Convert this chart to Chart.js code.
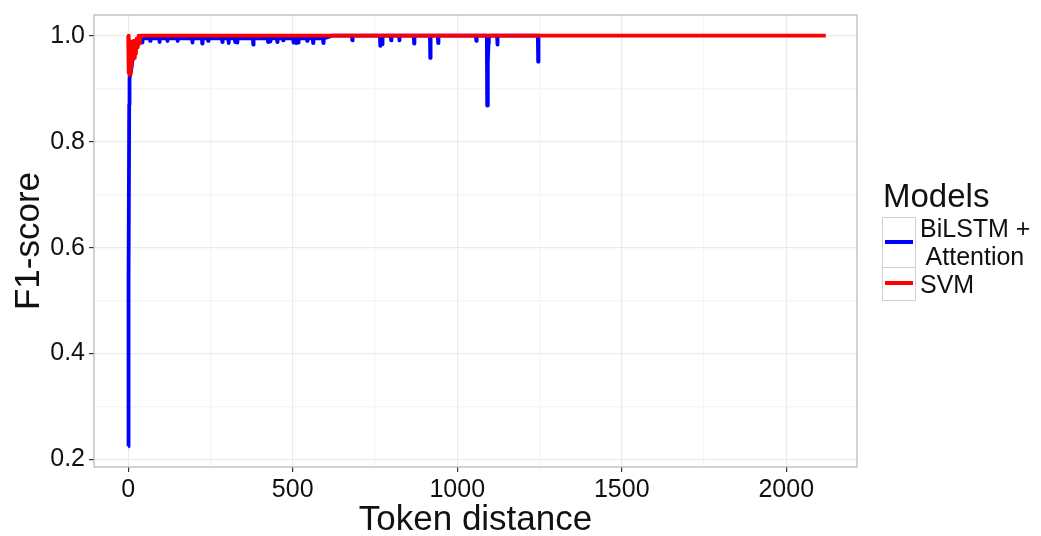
<!DOCTYPE html>
<html>
<head>
<meta charset="utf-8">
<script src="https://cdn.jsdelivr.net/npm/chart.js@4"></script>
<style>
  html, body { margin: 0; padding: 0; background: #ffffff; }
  #wrap { position: relative; width: 1041px; height: 536px; font-family: 'Liberation Sans', Arial, Helvetica, sans-serif; color: #111; }
  #c { position: absolute; left: 0; top: 0; }
  .lg { position: absolute; white-space: pre; line-height: 1; }
  .key { position: absolute; border: 1px solid #cfcfcf; background: #fff; box-sizing: border-box; }
  .keyline { position: absolute; height: 4px; }
</style>
</head>
<body>
<div id="wrap">
  <canvas id="c" width="1041" height="536"></canvas>
  <div class="lg" style="left:883px; top:179px; font-size:33px;">Models</div>
  <div class="key" style="left:882px; top:217px; width:34px; height:51px;"></div>
  <div class="key" style="left:882px; top:267px; width:34px; height:34px;"></div>
  <div class="keyline" style="left:885px; top:240px; width:28px; background:#0000ff;"></div>
  <div class="keyline" style="left:885px; top:281px; width:28px; background:#ff0000;"></div>
  <div class="lg" style="left:920px; top:216px; font-size:25px;">BiLSTM +</div>
  <div class="lg" style="left:920px; top:244px; font-size:25px;"> Attention</div>
  <div class="lg" style="left:920px; top:272px; font-size:25px;">SVM</div>
</div>
<script>
// ---- data ----
const seriesNames = ['BiLSTM + Attention', 'SVM'];

const blueX = [0, 1, 3, 4, 6, 9, 12, 15, 18, 22, 26, 30, 35,
  42, 43, 44, 66, 67, 68, 94, 95, 96, 118, 119, 120, 149, 150, 151,
  194, 195, 196, 224, 225, 226, 242, 243, 244, 285, 286, 287, 304, 305, 306,
  324, 325, 326, 330, 331, 332, 379, 380, 381, 424, 425, 426, 431, 432, 433,
  452, 453, 454, 470, 471, 472, 501, 502, 503, 509, 510, 511, 516, 517, 518,
  543, 544, 545, 561, 562, 563, 592, 593, 594, 620,
  680, 681, 682, 765, 766, 767, 771, 772, 773, 798, 799, 800, 823, 824, 825,
  868, 869, 870, 917, 918, 919, 941, 942, 943, 1057, 1058, 1059,
  1090, 1091, 1093, 1095, 1096, 1121, 1122, 1123, 1245, 1246, 1247, 1250];
const blueY = [0.225, 0.535, 0.87, 0.92, 0.925, 0.935, 0.95, 0.962, 0.97, 0.98, 0.986, 0.99, 0.993,
  0.995, 0.987, 0.995, 0.995, 0.99, 0.995, 0.995, 0.988, 0.995, 0.995, 0.99, 0.995, 0.995, 0.99, 0.995,
  0.995, 0.987, 0.995, 0.995, 0.985, 0.995, 0.995, 0.99, 0.995, 0.995, 0.988, 0.995, 0.995, 0.986, 0.995,
  0.995, 0.988, 0.995, 0.995, 0.987, 0.995, 0.995, 0.983, 0.995, 0.995, 0.988, 0.995, 0.995, 0.989, 0.995,
  0.995, 0.988, 0.995, 0.995, 0.991, 0.995, 0.995, 0.987, 0.995, 0.995, 0.986, 0.995, 0.995, 0.987, 0.995,
  0.995, 0.99, 0.995, 0.995, 0.986, 0.995, 0.995, 0.986, 0.995, 1.0,
  1.0, 0.991, 1.0, 1.0, 0.981, 1.0, 1.0, 0.984, 1.0, 1.0, 0.991, 1.0, 1.0, 0.991, 1.0,
  1.0, 0.985, 1.0, 1.0, 0.958, 1.0, 1.0, 0.986, 1.0, 1.0, 0.99, 1.0,
  1.0, 0.868, 0.95, 0.985, 1.0, 1.0, 0.983, 1.0, 1.0, 0.951, 1.0, 1.0];

const redX = [0, 1, 2, 3, 5, 6, 8, 10, 12, 14, 16, 18, 20, 23, 26, 29, 32, 35, 38, 2120];
const redY = [1.0, 0.93, 1.0, 0.926, 0.99, 0.93, 0.985, 0.94, 0.988, 0.955, 0.99, 0.958, 0.99, 0.965, 0.995, 0.978, 1.0, 0.985, 1.0, 1.0];

const xTicks = [0, 250, 500, 750, 1000, 1250, 1500, 1750, 2000];
const xLabeled = [0, 500, 1000, 1500, 2000];
const yTicks = [0.2, 0.3, 0.4, 0.5, 0.6, 0.7, 0.8, 0.9, 1.0];
const yLabeled = [0.2, 0.4, 0.6, 0.8, 1.0];

const xTitle = 'Token distance';
const yTitle = 'F1-score';

// ---- chart ----
const FONT = "'Liberation Sans', Arial, Helvetica, sans-serif";
const toPts = (xs, ys) => xs.map((x, i) => ({ x: x, y: ys[i] }));
const isLabeled = (list, v) => list.some(t => Math.abs(t - v) < 1e-9);

const borderPlugin = {
  id: 'panelBorder',
  afterDatasetsDraw(chart) {
    const a = chart.chartArea, ctx = chart.ctx;
    ctx.save();
    ctx.strokeStyle = '#b5b5b5';
    ctx.lineWidth = 1.2;
    ctx.strokeRect(a.left, a.top, a.right - a.left, a.bottom - a.top);
    ctx.restore();
  }
};

new Chart(document.getElementById('c'), {
  type: 'line',
  data: {
    datasets: [
      { label: seriesNames[0], data: toPts(blueX, blueY), borderColor: '#0000ff', backgroundColor: '#0000ff',
        borderWidth: 3.8, pointRadius: 0, tension: 0, borderJoinStyle: 'round', order: 2 },
      { label: seriesNames[1], data: toPts(redX, redY), borderColor: '#ff0000', backgroundColor: '#ff0000',
        borderWidth: 3.8, pointRadius: 0, tension: 0, borderJoinStyle: 'round', order: 1 }
    ]
  },
  plugins: [borderPlugin],
  options: {
    responsive: false,
    animation: false,
    devicePixelRatio: 1,
    layout: { padding: { left: 0, right: 184, top: 15, bottom: 0 } },
    plugins: { legend: { display: false }, tooltip: { enabled: false } },
    scales: {
      x: {
        type: 'linear',
        min: -104, max: 2215,
        afterBuildTicks: s => { s.ticks = xTicks.map(v => ({ value: v })); },
        afterFit: s => { s.height = 69; s.paddingLeft = 0; s.paddingRight = 0; },
        border: { display: false },
        grid: {
          color: c => isLabeled(xLabeled, c.tick ? c.tick.value : NaN) ? '#ebebeb' : '#f4f4f4',
          lineWidth: 1.2,
          drawTicks: true,
          tickLength: 5,
          tickColor: c => isLabeled(xLabeled, c.tick ? c.tick.value : NaN) ? '#333333' : 'rgba(0,0,0,0)'
        },
        ticks: {
          autoSkip: false, maxRotation: 0, padding: 3,
          color: '#111111', font: { family: FONT, size: 25 },
          callback: v => isLabeled(xLabeled, v) ? String(v) : ''
        },
        title: { display: true, text: xTitle, color: '#111', font: { family: FONT, size: 35, lineHeight: 1 }, padding: { top: 0, bottom: -2 } }
      },
      y: {
        type: 'linear',
        min: 0.186, max: 1.039,
        afterBuildTicks: s => { s.ticks = yTicks.map(v => ({ value: v })); },
        afterFit: s => { s.width = 94; s.paddingTop = 0; s.paddingBottom = 0; },
        border: { display: false },
        grid: {
          color: c => isLabeled(yLabeled, c.tick ? c.tick.value : NaN) ? '#ebebeb' : '#f4f4f4',
          lineWidth: 1.2,
          drawTicks: true,
          tickLength: 5,
          tickColor: c => isLabeled(yLabeled, c.tick ? c.tick.value : NaN) ? '#333333' : 'rgba(0,0,0,0)'
        },
        ticks: {
          autoSkip: false, padding: 4,
          color: '#111111', font: { family: FONT, size: 25 },
          callback: v => isLabeled(yLabeled, v) ? v.toFixed(1) : ''
        },
        title: { display: true, text: yTitle, color: '#111', font: { family: FONT, size: 35, lineHeight: 1 }, padding: { top: 12, bottom: 0 } }
      }
    }
  }
});
</script>
</body>
</html>
